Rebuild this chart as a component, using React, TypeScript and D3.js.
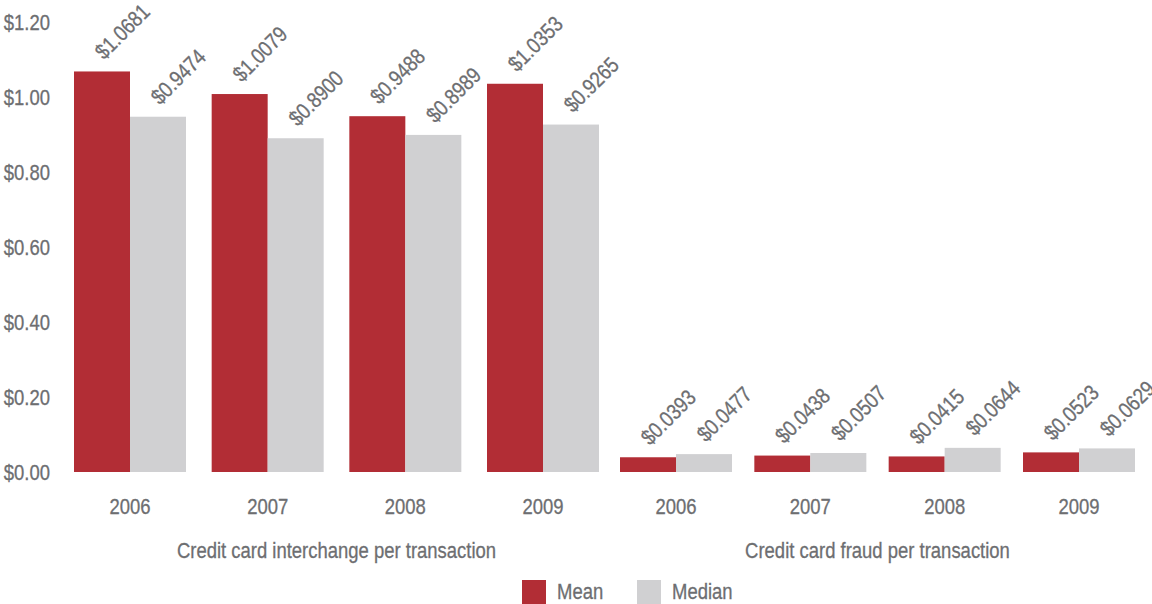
import React from "react";
import * as d3 from "d3";

const groups = ["Credit card interchange per transaction", "Credit card fraud per transaction"];
const years = ["2006", "2007", "2008", "2009"];
const seriesNames = ["Mean", "Median"];
const interchangeMean = [1.0681, 1.0079, 0.9488, 1.0353];
const interchangeMedian = [0.9474, 0.89, 0.8989, 0.9265];
const fraudMean = [0.0393, 0.0438, 0.0415, 0.0523];
const fraudMedian = [0.0477, 0.0507, 0.0644, 0.0629];
const yTicks = [0, 0.2, 0.4, 0.6, 0.8, 1.0, 1.2];

const W = 1152;
const H = 604;
const RED = "#b22d35";
const GRAY = "#d0d0d2";
const TEXT = "#6d6e71";
const FONT = "'Liberation Sans', Arial, sans-serif";
const FS = 22;
const SX = 0.84;

function T({ x, y, rot = 0, anchor = "start", children }: { x: number; y: number; rot?: number; anchor?: string; children: React.ReactNode }) {
  return (
    <text
      transform={`translate(${x},${y}) rotate(${rot}) scale(${SX},1)`}
      textAnchor={anchor}
      fontSize={FS}
      fill={TEXT}
      stroke={TEXT}
      strokeWidth={0.3}
      fontFamily={FONT}
    >
      {children}
    </text>
  );
}

export default function App() {
  const seriesByGroup = [
    [interchangeMean, interchangeMedian],
    [fraudMean, fraudMedian],
  ];
  const ranges: [number, number][] = [
    [74, 599],
    [620, 1135],
  ];
  const y = d3.scaleLinear().domain([0, 1.2]).range([472, 22]);
  const fmtTick = (v: number) => "$" + d3.format(".2f")(v);
  const fmtVal = (v: number) => "$" + d3.format(".4f")(v);

  return (
    <svg width={W} height={H} style={{ position: "absolute", left: 0, top: 0, background: "#fff" }}>
      {yTicks.map((t) => (
        <T key={t} x={50} y={y(t) + 7.5} anchor="end">
          {fmtTick(t)}
        </T>
      ))}
      {groups.map((g, gi) => {
        const [r0, r1] = ranges[gi];
        const n = years.length;
        const step = (r1 - r0 - 112) / (n - 1);
        const pad = 1 - 112 / step;
        const x = d3.scaleBand<string>().domain(years).range([r0, r1]).paddingInner(pad).paddingOuter(0);
        const inner = d3.scaleBand<string>().domain(seriesNames).range([0, x.bandwidth()]);
        return (
          <g key={g}>
            {years.map((yr, i) => {
              const x0 = x(yr)!;
              return (
                <g key={yr}>
                  {seriesNames.map((s, si) => {
                    const v = seriesByGroup[gi][si][i];
                    const bx = x0 + inner(s)!;
                    const by = y(v);
                    const cx = bx + inner.bandwidth() / 2;
                    return (
                      <g key={s}>
                        <rect x={bx} y={by} width={inner.bandwidth()} height={y(0) - by} fill={si === 0 ? RED : GRAY} />
                        <T x={cx + 2} y={by - 11} rot={-45}>
                          {fmtVal(v)}
                        </T>
                      </g>
                    );
                  })}
                  <T x={x0 + x.bandwidth() / 2} y={513.5} anchor="middle">
                    {yr}
                  </T>
                </g>
              );
            })}
            <T x={(r0 + r1) / 2} y={557.5} anchor="middle">
              {g}
            </T>
          </g>
        );
      })}
      {seriesNames.map((s, si) => {
        const lx = [522, 637][si];
        return (
          <g key={s}>
            <rect x={lx} y={580} width={24} height={24} fill={si === 0 ? RED : GRAY} />
            <T x={lx + 35} y={599}>
              {s}
            </T>
          </g>
        );
      })}
    </svg>
  );
}
